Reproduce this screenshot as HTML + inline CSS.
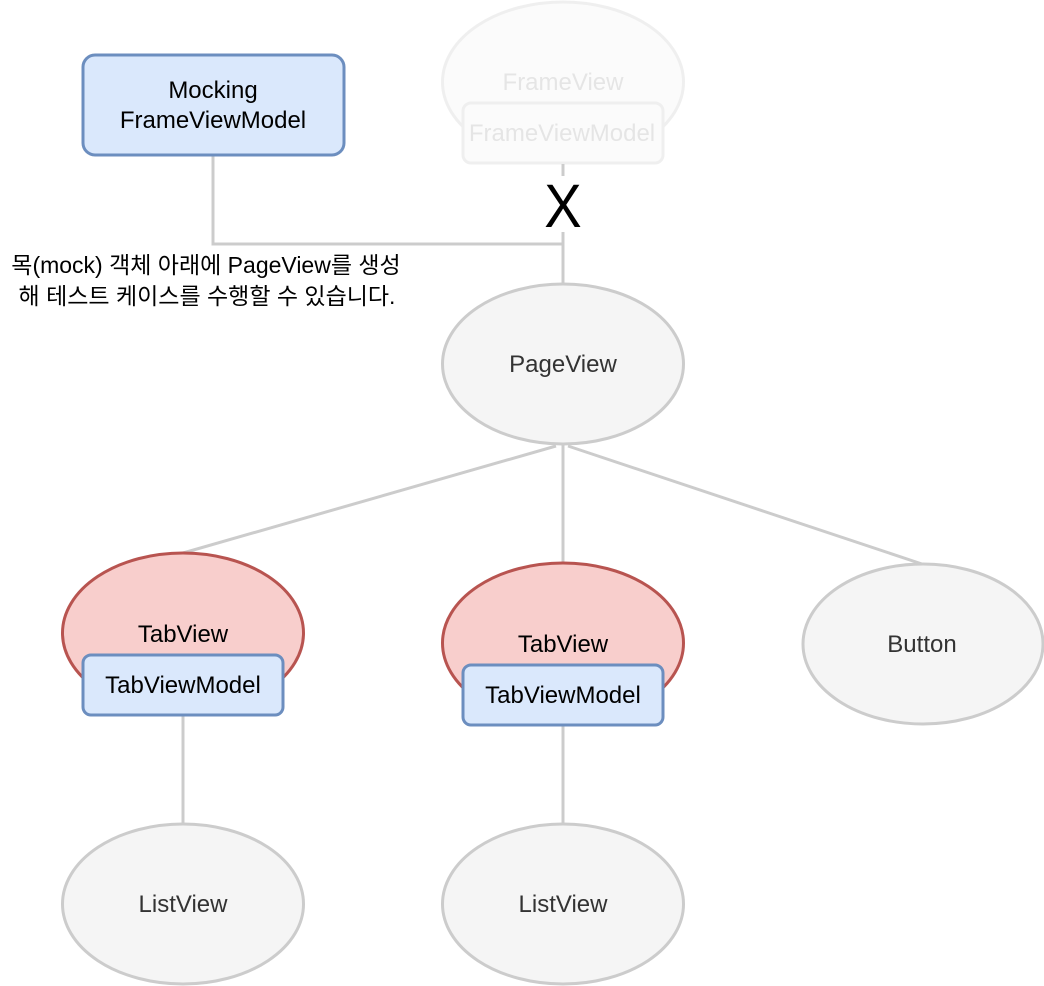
<!DOCTYPE html>
<html>
<head>
<meta charset="utf-8">
<style>
html,body{margin:0;padding:0;background:#fff;}
svg{display:block;}
text{font-family:"Liberation Sans","Noto Sans CJK KR",sans-serif;}
</style>
</head>
<body>
<svg width="1044" height="986" viewBox="0 0 1044 986" xmlns="http://www.w3.org/2000/svg">
  <!-- connectors -->
  <g stroke="#cccccc" stroke-width="3" fill="none">
    <polyline points="213,156 213,244 563,244"/>
    <line x1="563" y1="164" x2="563" y2="284"/>
    <line x1="556" y1="446" x2="183" y2="553"/>
    <line x1="563" y1="444" x2="563" y2="563"/>
    <line x1="568" y1="446" x2="922" y2="564"/>
    <line x1="183" y1="715" x2="183" y2="823"/>
    <line x1="563" y1="725" x2="563" y2="823"/>
  </g>

  <!-- faded FrameView -->
  <g opacity="0.3">
    <ellipse cx="563" cy="82" rx="120.5" ry="80" fill="#f5f5f5" stroke="#cccccc" stroke-width="3"/>
    <text x="563" y="90" font-size="24" fill="#aaaaaa" text-anchor="middle">FrameView</text>
    <rect x="463" y="103" width="200" height="60" rx="8" fill="#f5f5f5" stroke="#cccccc" stroke-width="3"/>
    <text x="562" y="141" font-size="24" fill="#aaaaaa" text-anchor="middle">FrameViewModel</text>
  </g>

  <!-- X label -->
  <rect x="541" y="176" width="44" height="56" fill="#fff"/>
  <text x="563" y="227" font-size="61" fill="#000" text-anchor="middle" transform="translate(563 0) scale(0.92 1) translate(-563 0)">X</text>

  <!-- Mocking box -->
  <rect x="83" y="55" width="261" height="100" rx="12" fill="#dae8fc" stroke="#6c8ebf" stroke-width="3"/>
  <text x="213" y="98" font-size="24" fill="#000" text-anchor="middle">Mocking</text>
  <text x="213" y="128" font-size="24" fill="#000" text-anchor="middle">FrameViewModel</text>

  <!-- Korean note -->
  <text x="206" y="273" font-size="23" fill="#000" text-anchor="middle">목(mock) 객체 아래에 PageView를 생성</text>
  <text x="207" y="304" font-size="23" fill="#000" text-anchor="middle">해 테스트 케이스를 수행할 수 있습니다.</text>

  <!-- PageView -->
  <ellipse cx="563" cy="364" rx="120.5" ry="80" fill="#f5f5f5" stroke="#cccccc" stroke-width="3"/>
  <text x="563" y="372" font-size="24" fill="#333" text-anchor="middle">PageView</text>

  <!-- Left TabView -->
  <ellipse cx="183" cy="633" rx="120.5" ry="80" fill="#f8cecc" stroke="#b85450" stroke-width="3"/>
  <text x="183" y="642" font-size="24" fill="#000" text-anchor="middle">TabView</text>
  <rect x="83" y="655" width="200" height="60" rx="8" fill="#dae8fc" stroke="#6c8ebf" stroke-width="3"/>
  <text x="183" y="693" font-size="24" fill="#000" text-anchor="middle">TabViewModel</text>

  <!-- Middle TabView -->
  <ellipse cx="563" cy="643" rx="120.5" ry="80" fill="#f8cecc" stroke="#b85450" stroke-width="3"/>
  <text x="563" y="652" font-size="24" fill="#000" text-anchor="middle">TabView</text>
  <rect x="463" y="665" width="200" height="60" rx="8" fill="#dae8fc" stroke="#6c8ebf" stroke-width="3"/>
  <text x="563" y="703" font-size="24" fill="#000" text-anchor="middle">TabViewModel</text>

  <!-- Button -->
  <ellipse cx="923" cy="644" rx="120" ry="80" fill="#f5f5f5" stroke="#cccccc" stroke-width="3"/>
  <text x="922" y="652" font-size="24" fill="#333" text-anchor="middle">Button</text>

  <!-- ListViews -->
  <ellipse cx="183" cy="904" rx="120.5" ry="80" fill="#f5f5f5" stroke="#cccccc" stroke-width="3"/>
  <text x="183" y="912" font-size="24" fill="#333" text-anchor="middle">ListView</text>
  <ellipse cx="563" cy="904" rx="120.5" ry="80" fill="#f5f5f5" stroke="#cccccc" stroke-width="3"/>
  <text x="563" y="912" font-size="24" fill="#333" text-anchor="middle">ListView</text>
</svg>
</body>
</html>
